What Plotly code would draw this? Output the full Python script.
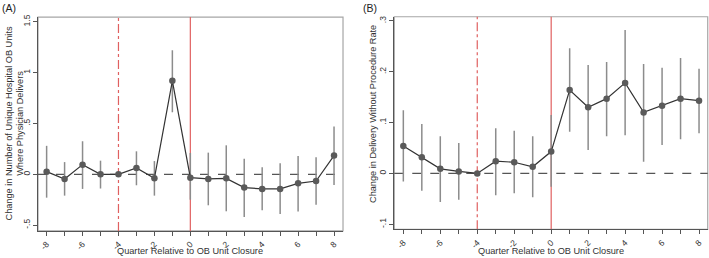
import plotly.graph_objects as go

quarters = list(range(-8, 9))

# Panel A: change in number of unique hospital OB units
a_est = [0.026, -0.046, 0.095, 0.0, 0.0, 0.062, -0.04, 0.92, -0.033,
         -0.046, -0.04, -0.131, -0.144, -0.144, -0.089, -0.066, 0.184]
a_hi = [0.28, 0.12, 0.325, 0.134, 0.0, 0.226, 0.13, 1.22, 0.21,
        0.213, 0.285, 0.154, 0.069, 0.108, 0.18, 0.167, 0.47]
a_lo = [-0.23, -0.21, -0.144, -0.14, 0.0, -0.108, -0.21, 0.61, -0.25,
        -0.305, -0.364, -0.42, -0.354, -0.39, -0.367, -0.30, -0.105]

# Panel B: change in delivery without procedure rate
b_est = [0.054, 0.032, 0.009, 0.004, 0.0, 0.024, 0.022, 0.013, 0.043,
         0.164, 0.130, 0.147, 0.178, 0.120, 0.133, 0.147, 0.143]
b_hi = [0.124, 0.097, 0.073, 0.06, 0.0, 0.089, 0.084, 0.073, 0.115,
        0.246, 0.213, 0.219, 0.282, 0.215, 0.208, 0.227, 0.206]
b_lo = [-0.016, -0.034, -0.056, -0.052, 0.0, -0.043, -0.039, -0.047, -0.026,
        0.082, 0.046, 0.073, 0.075, 0.023, 0.056, 0.067, 0.079]

x_tickvals = list(range(-8, 9))
x_ticktext = [str(v) if v % 2 == 0 else "" for v in x_tickvals]
a_yticks = [-0.5, 0, 0.5, 1, 1.5]
a_ytext = ["-.5", "0", ".5", "1", "1.5"]
b_yticks = [-0.1, 0, 0.1, 0.2, 0.3]
b_ytext = ["-.1", "0", ".1", ".2", ".3"]

FONT = "Liberation Sans, Arial, sans-serif"
CI_COL = "#8c8c8c"
LINE_COL = "#333333"
MK_COL = "#5a5a5a"
RED = "#e06060"

fig = go.Figure()


def add_panel(est, hi, lo, xa, ya):
    fig.add_trace(go.Scatter(
        x=quarters, y=est, xaxis=xa, yaxis=ya, mode="lines+markers",
        line=dict(color=LINE_COL, width=1.2),
        marker=dict(color=MK_COL, size=6.5),
        error_y=dict(type="data", symmetric=False,
                     array=[h - e for h, e in zip(hi, est)],
                     arrayminus=[e - l for e, l in zip(est, lo)],
                     color=CI_COL, thickness=1.5, width=0),
        showlegend=False, hoverinfo="skip"))


add_panel(a_est, a_hi, a_lo, "x", "y")
add_panel(b_est, b_hi, b_lo, "x2", "y2")

axis_common = dict(showgrid=False, zeroline=False, showline=True,
                   linecolor="#555555", linewidth=1, ticks="outside",
                   ticklen=4, tickcolor="#555555", automargin=False,
                   tickfont=dict(family=FONT, size=8.5, color="#333333"))

fig.update_layout(
    width=709, height=258,
    margin=dict(l=0, r=0, t=0, b=0),
    paper_bgcolor="white", plot_bgcolor="white",
    font=dict(family=FONT, color="#333333"),
    xaxis=dict(domain=[0.0536, 0.4838], range=[-8.48, 8.5],
               tickvals=x_tickvals, ticktext=x_ticktext, tickangle=-45,
               anchor="y", **axis_common),
    yaxis=dict(domain=[0.105, 0.934], range=[-0.557, 1.547],
               tickvals=a_yticks, ticktext=a_ytext, tickangle=-90,
               anchor="x", **axis_common),
    xaxis2=dict(domain=[0.5561, 0.9982], range=[-8.49, 8.47],
                tickvals=x_tickvals, ticktext=x_ticktext, tickangle=-45,
                anchor="y2", **axis_common),
    yaxis2=dict(domain=[0.111, 0.935], range=[-0.110, 0.308],
                tickvals=b_yticks, ticktext=b_ytext, tickangle=-90,
                anchor="x2", **axis_common),
)

shapes = []
for xa, ya in (("x", "y"), ("x2", "y2")):
    # frame
    shapes.append(dict(type="rect", xref=f"{xa} domain", yref=f"{ya} domain",
                       x0=0, x1=1, y0=0, y1=1,
                       line=dict(color="#a6a6a6", width=1.2), layer="below"))
    # zero reference line
    shapes.append(dict(type="line", xref=f"{xa} domain", yref=ya,
                       x0=0, x1=1, y0=0, y1=0,
                       line=dict(color="#555555", width=1.2, dash="dash"),
                       layer="below"))
    # closure line
    shapes.append(dict(type="line", xref=xa, yref=f"{ya} domain",
                       x0=0, x1=0, y0=0, y1=1,
                       line=dict(color=RED, width=1.2), layer="below"))
    # anticipation line
    shapes.append(dict(type="line", xref=xa, yref=f"{ya} domain",
                       x0=-4, x1=-4, y0=0, y1=1,
                       line=dict(color=RED, width=1.2, dash="dashdot"),
                       layer="below"))
fig.update_layout(shapes=shapes)

TF = 9.2
annotations = [
    dict(text="(A)", x=0.0, y=1.0, xref="paper", yref="paper",
         xanchor="left", yanchor="top", showarrow=False,
         font=dict(family=FONT, size=10.5, color="#222222")),
    dict(text="(B)", x=361 / 709, y=1.0, xref="paper", yref="paper",
         xanchor="left", yanchor="top", showarrow=False,
         font=dict(family=FONT, size=10.5, color="#222222")),
    dict(text="Quarter Relative to OB Unit Closure", x=190 / 709, y=1 - 251 / 258,
         xref="paper", yref="paper", xanchor="center", yanchor="middle",
         showarrow=False, font=dict(family=FONT, size=TF, color="#333333")),
    dict(text="Quarter Relative to OB Unit Closure", x=551 / 709, y=1 - 251 / 258,
         xref="paper", yref="paper", xanchor="center", yanchor="middle",
         showarrow=False, font=dict(family=FONT, size=TF, color="#333333")),
    dict(text="Change in Number of Unique Hospital OB Units<br>Where Physician Delivers",
         x=14.5 / 709, y=1 - 124 / 258, xref="paper", yref="paper",
         xanchor="center", yanchor="middle", textangle=-90, showarrow=False,
         font=dict(family=FONT, size=TF, color="#333333")),
    dict(text="Change in Delivery Without Procedure Rate",
         x=373 / 709, y=1 - 114 / 258, xref="paper", yref="paper",
         xanchor="center", yanchor="middle", textangle=-90, showarrow=False,
         font=dict(family=FONT, size=TF, color="#333333")),
]
fig.update_layout(annotations=annotations)

fig.write_html("out.html", config={"displayModeBar": False},
               post_script="document.body.style.margin='0';document.body.style.padding='0';")
